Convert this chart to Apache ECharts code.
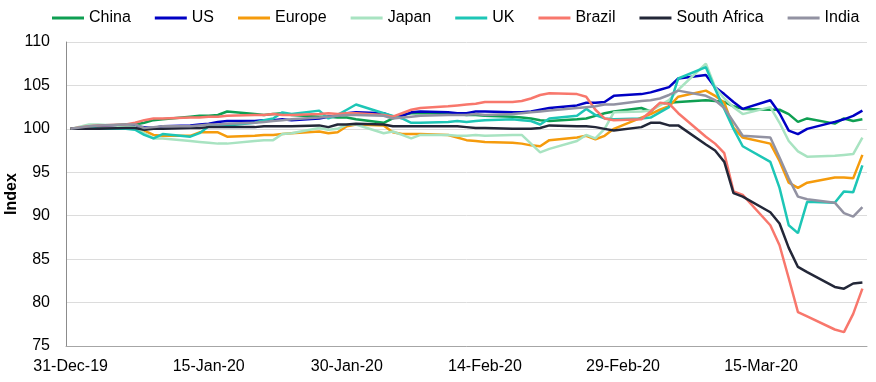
<!DOCTYPE html>
<html>
<head>
<meta charset="utf-8">
<script src="https://cdn.jsdelivr.net/npm/echarts@6/dist/echarts.min.js"></script>
<style>
html,body{margin:0;padding:0;background:#fff;}
#chart{width:876px;height:382px;}
</style>
</head>
<body>
<div id="chart"></div>
<script>
// ---- DATA ----
const tickLabels = ['31-Dec-19','15-Jan-20','30-Jan-20','14-Feb-20','29-Feb-20','15-Mar-20'];
const tradingDays = ['31-Dec-19','2-Jan-20','3-Jan-20','6-Jan-20','7-Jan-20','8-Jan-20','9-Jan-20','10-Jan-20',
  '13-Jan-20','14-Jan-20','15-Jan-20','16-Jan-20','17-Jan-20','20-Jan-20','21-Jan-20','22-Jan-20','23-Jan-20','24-Jan-20',
  '27-Jan-20','28-Jan-20','29-Jan-20','30-Jan-20','31-Jan-20','3-Feb-20','4-Feb-20','5-Feb-20','6-Feb-20','7-Feb-20',
  '10-Feb-20','11-Feb-20','12-Feb-20','13-Feb-20','14-Feb-20','17-Feb-20','18-Feb-20','19-Feb-20','20-Feb-20','21-Feb-20',
  '24-Feb-20','25-Feb-20','26-Feb-20','27-Feb-20','28-Feb-20','2-Mar-20','3-Mar-20','4-Mar-20','5-Mar-20','6-Mar-20',
  '9-Mar-20','10-Mar-20','11-Mar-20','12-Mar-20','13-Mar-20','16-Mar-20','17-Mar-20','18-Mar-20','19-Mar-20','20-Mar-20',
  '23-Mar-20','24-Mar-20','25-Mar-20','26-Mar-20'];

const china = [100,100.2,100.3,100.5,100.5,100.7,101.0,101.1,101.4,101.5,
  101.5,101.6,102.0,101.7,101.6,101.7,101.8,101.6,101.4,101.4,
  101.3,101.3,101.1,100.7,101.2,101.6,101.8,101.8,101.8,101.7,
  101.6,101.6,101.5,101.4,101.3,101.2,101.0,100.9,101.1,101.2,
  101.5,101.8,102.0,102.4,102.0,102.9,103.0,103.1,103.3,103.2,
  103.1,102.6,102.3,102.2,102.2,101.7,100.8,101.2,100.6,101.2,
  100.9,101.1];
const us = [100,100.1,100.2,100.2,100.3,100.2,100.1,100.3,100.4,100.5,
  100.6,100.8,100.9,100.9,101.0,101.0,101.1,101.0,101.2,101.4,
  101.5,101.8,101.9,101.8,101.4,101.5,101.9,102.0,101.9,101.8,
  101.8,102.0,102.0,101.9,101.9,102.0,102.2,102.4,102.7,103.0,
  103.0,103.1,103.8,104.0,104.2,104.5,104.8,105.8,106.2,104.8,
  104.0,103.1,102.3,103.3,101.8,99.8,99.4,100.0,100.8,101.1,
  101.5,102.1];
const europe = [100,100.0,100.0,100.1,100.1,99.8,99.3,99.2,99.2,99.6,
  99.6,99.6,99.1,99.2,99.3,99.3,99.4,99.5,99.7,99.5,
  99.6,100.3,100.5,100.4,99.6,99.4,99.4,99.4,99.3,99.0,
  98.7,98.6,98.5,98.4,98.3,98.1,98.0,98.7,99.0,99.2,
  98.8,99.2,100.0,101.3,101.7,102.2,102.6,103.7,104.4,103.8,
  103.0,100.1,99.0,98.3,96.3,93.8,93.2,93.8,94.4,94.4,
  94.3,97.0];
const japan = [100,100.5,100.5,100.3,100.2,99.5,98.9,98.9,98.6,98.5,
  98.4,98.3,98.3,98.6,98.7,98.7,99.4,99.5,100.1,99.9,
  100.0,100.5,100.5,99.5,99.7,99.3,98.9,99.3,99.3,99.2,
  99.2,99.3,99.2,99.3,99.3,98.3,97.3,97.7,98.6,99.3,
  98.9,100.0,101.9,102.0,102.1,102.7,103.3,104.5,107.5,104.8,
  103.5,102.5,101.7,102.5,100.7,98.6,97.4,96.8,96.9,97.0,
  97.1,99.0];
const uk = [100,100.2,100.0,100.0,99.9,99.3,98.9,99.4,99.1,99.5,
  100.3,100.4,100.4,100.7,101.0,101.2,101.9,101.7,102.1,101.2,
  101.6,102.2,102.8,101.8,101.5,101.2,100.7,100.7,100.8,100.9,
  100.8,100.9,101.0,101.1,101.0,100.9,100.5,101.2,101.5,102.3,
  101.6,101.2,101.1,101.2,101.3,101.9,102.5,105.8,107.1,104.6,
  102.3,100.0,98.0,96.2,93.2,88.9,88.0,91.6,91.5,92.8,
  92.7,95.8];
const brazil = [100,100.3,100.4,100.5,100.7,101.0,101.2,101.2,101.3,101.3,
  101.4,101.4,101.5,101.6,101.6,101.7,101.6,101.6,101.7,101.8,
  101.7,101.8,101.8,101.6,101.4,101.8,102.2,102.4,102.6,102.7,
  102.8,102.9,103.1,103.1,103.2,103.5,103.9,104.1,104.0,103.7,
  102.2,101.2,101.0,101.1,102.0,103.0,102.9,101.8,99.1,98.3,
  97.2,92.8,92.4,88.9,86.6,82.8,78.9,78.4,76.9,76.6,
  78.7,81.6];
const southAfrica = [100,100.0,100.0,100.1,100.1,99.9,100.0,100.0,100.1,100.1,
  100.2,100.2,100.2,100.2,100.3,100.3,100.3,100.3,100.4,100.2,
  100.5,100.5,100.6,100.5,100.3,100.3,100.3,100.3,100.3,100.3,
  100.2,100.1,100.1,100.0,100.0,100.0,100.1,100.4,100.3,100.3,
  100.2,100.0,99.8,100.2,100.7,100.7,100.4,100.4,98.2,97.5,
  96.2,92.6,92.2,90.4,89.1,86.3,84.1,83.5,81.8,81.6,
  82.2,82.3];
const india = [100,100.3,100.4,100.5,100.5,100.1,100.2,100.3,100.3,100.4,
  100.5,100.5,100.6,100.7,100.8,100.9,101.0,101.1,101.3,101.4,
  101.5,101.6,101.6,101.5,101.2,101.3,101.4,101.5,101.6,101.6,
  101.6,101.7,101.6,101.7,101.8,101.9,102.0,102.1,102.4,102.5,
  102.6,102.8,102.8,103.2,103.3,103.5,103.9,104.4,103.8,103.3,
  102.4,100.8,99.2,99.0,96.7,94.3,92.2,91.9,91.5,90.3,
  89.9,91.0];

const seriesNames = ['China','US','Europe','Japan','UK','Brazil','South Africa','India'];
const seriesValues = [china, us, europe, japan, uk, brazil, southAfrica, india];
const seriesColors = ['#0f9f52','#0000c4','#f59b0c','#a8e3c1','#1dc6b6','#f8776c','#232738','#9292a2'];

// ---- calendar categories ----
const MONTHS = ['Jan','Feb','Mar','Apr','May','Jun','Jul','Aug','Sep','Oct','Nov','Dec'];
function fmt(t){
  const d = new Date(t);
  return d.getUTCDate() + '-' + MONTHS[d.getUTCMonth()] + '-' + String(d.getUTCFullYear()).slice(2);
}
const categories = [];
for (let t = Date.UTC(2019,11,31); t <= Date.UTC(2020,2,26); t += 86400000) categories.push(fmt(t));

function toCalendar(values){
  const arr = categories.map(() => null);
  tradingDays.forEach((d, i) => { arr[categories.indexOf(d)] = values[i]; });
  return arr;
}

const FONT = 'Arial, "Liberation Sans", sans-serif';
const chart = echarts.init(document.getElementById('chart'), null, {renderer:'canvas'});
chart.setOption({
  animation: false,
  backgroundColor: '#ffffff',
  textStyle: {fontFamily: FONT},
  legend: {
    left: 47, top: 5,
    itemWidth: 32, itemHeight: 3, itemGap: 24,
    icon: 'rect',
    textStyle: {fontFamily: FONT, fontSize: 16, color: '#000'},
    data: seriesNames
  },
  grid: {left: 66, right: 9, top: 42, bottom: 36, containLabel: false, outerBoundsMode: 'none'},
  xAxis: {
    type: 'category',
    data: categories,
    boundaryGap: true,
    axisLine: {show: true, lineStyle: {color: '#a6a6a6', width: 1}},
    axisTick: {show: false},
    axisLabel: {
      interval: (idx, val) => tickLabels.includes(val),
      fontFamily: FONT, fontSize: 16, color: '#000', margin: 13,
      hideOverlap: false
    },
    splitLine: {show: false}
  },
  yAxis: {
    type: 'value',
    min: 75, max: 110, interval: 5,
    name: 'Index',
    nameLocation: 'middle',
    nameGap: 46,
    nameRotate: 90,
    nameMoveOverlap: false,
    nameTextStyle: {fontFamily: FONT, fontSize: 16, fontWeight: 'bold', color: '#000'},
    axisLine: {show: true, lineStyle: {color: '#8c8c8c', width: 1}},
    axisTick: {show: false},
    axisLabel: {fontFamily: FONT, fontSize: 16, color: '#000', margin: 16},
    splitLine: {show: true, lineStyle: {color: '#dcdcdc', width: 1}}
  },
  series: seriesNames.map((name, i) => ({
    name: name,
    type: 'line',
    data: toCalendar(seriesValues[i]),
    connectNulls: true,
    symbol: 'none',
    showSymbol: false,
    color: seriesColors[i],
    lineStyle: {width: 2.5, color: seriesColors[i]},
    itemStyle: {color: seriesColors[i]},
    emphasis: {disabled: true}
  }))
});
</script>
</body>
</html>
